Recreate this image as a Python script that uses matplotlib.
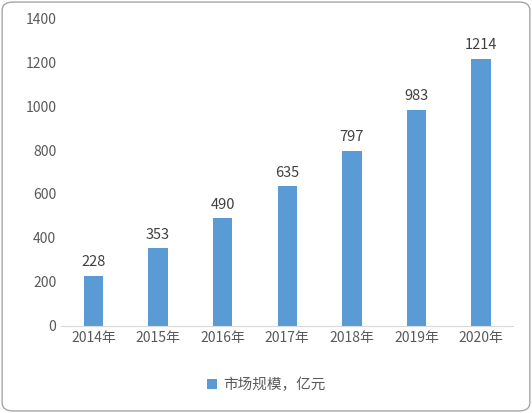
import matplotlib.pyplot as plt
from matplotlib.patches import FancyBboxPatch

plt.rcParams['font.family'] = ['Noto Sans CJK SC', 'DejaVu Sans']

years = ['2014年', '2015年', '2016年', '2017年', '2018年', '2019年', '2020年']
market_size = [228, 353, 490, 635, 797, 983, 1214]
legend_label = '市场规模，亿元'

fig = plt.figure(figsize=(5.32, 4.13), dpi=100)
fig.patches.append(FancyBboxPatch((0.004, 0.005), 0.992, 0.99, boxstyle='round,pad=0,rounding_size=0.02',
                                  transform=fig.transFigure, fill=False, edgecolor='#a6a6a6', linewidth=1))
ax = fig.add_axes([0.115, 0.211, 0.85, 0.745])

x = range(len(years))
ax.bar(x, market_size, width=0.3, color='#5b9bd5', label=legend_label)
for xi, v in zip(x, market_size):
    ax.text(xi, v + 30, str(v), ha='center', va='bottom', fontsize=10.5, color='#404040')

ax.set_ylim(0, 1400)
ax.set_yticks(range(0, 1401, 200))
ax.set_xlim(-0.5, len(years) - 0.5)
ax.set_xticks(list(x))
ax.set_xticklabels(years)
ax.tick_params(axis='both', length=0, labelsize=10, colors='#595959')
for s in ['top', 'right', 'left']:
    ax.spines[s].set_visible(False)
ax.spines['bottom'].set_color('#d9d9d9')

fig.legend(loc='center', bbox_to_anchor=(0.5, 0.068), frameon=False, fontsize=10.5,
           handlelength=0.7, handleheight=0.7, handletextpad=0.4, labelcolor='#595959')

fig.savefig('out.png', dpi=100)
